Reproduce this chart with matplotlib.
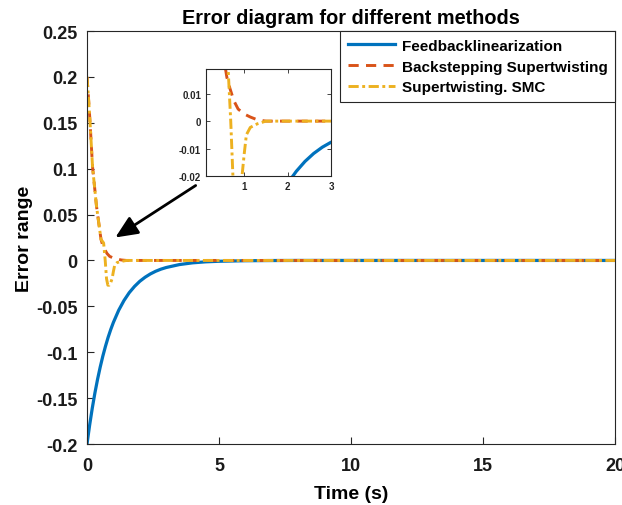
import matplotlib
matplotlib.use("Agg")
import matplotlib.pyplot as plt

plt.rcParams['font.family'] = ['Liberation Sans', 'DejaVu Sans']
plt.rcParams['font.weight'] = 'bold'

# Feedback linearization
t_fb = [0, 0.1, 0.2, 0.3, 0.4, 0.5, 0.6, 0.7, 0.8, 0.9, 1.0, 1.2, 1.4, 1.6, 1.8,
        2.0, 2.2, 2.4, 2.6, 2.8, 3.0, 3.5, 4.0, 4.5, 5.0, 6.0, 7.0, 8.0, 20.0]
e_fb = [-0.2, -0.1794, -0.1609, -0.1443, -0.1295, -0.1162, -0.1042, -0.0935, -0.0838,
        -0.0752, -0.0675, -0.0543, -0.0437, -0.0351, -0.0283, -0.0227, -0.0183,
        -0.0147, -0.0118, -0.0095, -0.0077, -0.0045, -0.0026, -0.0015, -0.0009,
        -0.0003, -0.0001, 0.0, 0.0]

# Backstepping supertwisting
t_bs = [0, 0.05, 0.11, 0.21, 0.36, 0.53, 0.6, 0.67, 0.76, 0.86, 1.0, 1.14, 1.3, 1.5, 20.0]
e_bs = [0.2, 0.18, 0.153, 0.102, 0.059, 0.023, 0.016, 0.012, 0.0075, 0.0044, 0.0026,
        0.0015, 0.0005, 0.0, 0.0]

# Supertwisting SMC
t_st = [0, 0.05, 0.11, 0.21, 0.36, 0.53, 0.63, 0.69, 0.74, 0.79, 0.84, 0.9, 0.95,
        1.0, 1.05, 1.14, 1.3, 1.5, 20.0]
e_st = [0.2, 0.18, 0.153, 0.102, 0.059, 0.023, 0.019, 0.0, -0.02, -0.027, -0.027,
        -0.024, -0.02, -0.012, -0.005, -0.0023, -0.001, 0.0, 0.0]

labels = ['Feedbacklinearization', 'Backstepping Supertwisting', 'Supertwisting. SMC']
colors = ['#0072BD', '#D95319', '#EDB120']

fig = plt.figure(figsize=(6.22, 5.06), dpi=100)
ax = fig.add_axes([87/622, 1-445/506, (615-87)/622, (445-32)/506])

def draw(a, lw):
    a.plot(t_fb, e_fb, color=colors[0], lw=lw*1.1, ls='-', label=labels[0])
    a.plot(t_bs, e_bs, color=colors[1], lw=lw, ls=(0, (3.5, 2.5)), label=labels[1])
    a.plot(t_st, e_st, color=colors[2], lw=lw, ls=(0, (3.5, 1.2, 1.0, 1.2)), label=labels[2])

draw(ax, 2.1)
ax.set_xlim(0, 20)
ax.set_ylim(-0.2, 0.25)
ax.set_xticks([0, 5, 10, 15, 20])
ax.set_xticklabels(['0', '5', '10', '15', '20'])
ax.set_yticks([-0.2, -0.15, -0.1, -0.05, 0, 0.05, 0.1, 0.15, 0.2, 0.25])
ax.set_yticklabels(['-0.2', '-0.15', '-0.1', '-0.05', '0', '0.05', '0.1', '0.15', '0.2', '0.25'])
ax.tick_params(direction='in', length=5, labelsize=13, width=0.8, colors='#262626',
               top=False, right=False)
ax.tick_params(axis='x', pad=9.3)
ax.tick_params(axis='y', pad=7)
for lab in ax.get_xticklabels() + ax.get_yticklabels():
    lab.set_fontweight('bold')
    lab.set_color('#1a1a1a')
for s in ax.spines.values():
    s.set_color('#262626')
    s.set_linewidth(0.8)
ax.set_xlabel('Time (s)', fontsize=14, fontweight='bold', labelpad=8)
ax.set_ylabel('Error range', fontsize=14, fontweight='bold', labelpad=2)
ax.set_title('Error diagram for different methods', fontsize=14.3, fontweight='bold', pad=6)

leg = ax.legend(loc='upper right', bbox_to_anchor=(1.0, 1.0),
                prop={'weight': 'bold', 'size': 11}, frameon=True, fancybox=False,
                borderaxespad=0, handlelength=3.1, handletextpad=0.4,
                labelspacing=0.45, borderpad=0.5)
leg.get_frame().set_edgecolor('#262626')
leg.get_frame().set_linewidth(0.8)
leg.get_frame().set_alpha(1)

# inset
axi = fig.add_axes([206/622, 1-177/506, (331-206)/622, (177-70)/506])
draw(axi, 2.1)
axi.set_xlim(0.12, 3)
axi.set_ylim(-0.02, 0.019)
axi.set_xticks([1, 2, 3])
axi.set_xticklabels(['1', '2', '3'])
axi.set_yticks([-0.02, -0.01, 0, 0.01])
axi.set_yticklabels(['-0.02', '-0.01', '0', '0.01'])
axi.tick_params(direction='in', length=3, labelsize=7, width=0.6, top=True, right=True,
                colors='#262626')
for lab in axi.get_xticklabels() + axi.get_yticklabels():
    lab.set_fontweight('bold')
for s in axi.spines.values():
    s.set_color('#262626')
    s.set_linewidth(0.8)

# arrow (figure coordinates)
fig.patches.append(matplotlib.patches.FancyArrowPatch(
    (198/622, 1-185/506), (113/622, 1-240/506), transform=fig.transFigure,
    arrowstyle='-|>,head_length=9,head_width=4', color='black', lw=2,
    mutation_scale=1.5))

fig.savefig('out.png', dpi=100)
